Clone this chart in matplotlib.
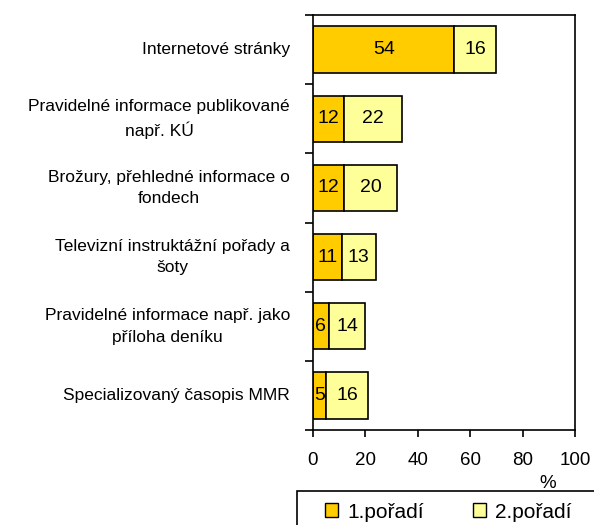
import matplotlib.pyplot as plt
from matplotlib.patches import Patch, Rectangle

plt.rcParams['font.family'] = ['Liberation Sans', 'DejaVu Sans']

# survey answers, share of respondents in %
categories = [
    'Internetové stránky',
    'Pravidelné informace publikované\nnapř. KÚ',
    'Brožury, přehledné informace o\nfondech',
    'Televizní instruktážní pořady a\nšoty',
    'Pravidelné informace např. jako\npříloha deníku',
    'Specializovaný časopis MMR',
]
first_rank = [54, 12, 12, 11, 6, 5]
second_rank = [16, 22, 20, 13, 14, 16]
series_names = ['1.pořadí', '2.pořadí']
colors = ['#FFCC00', '#FFFF99']

W, H = 594, 525
fig = plt.figure(figsize=(W / 100, H / 100), dpi=100)
ax = fig.add_axes([313 / W, 95 / H, 262 / W, 415 / H])

ypos = list(range(len(categories)))
bh = 0.67
ax.barh(ypos, first_rank, height=bh, color=colors[0], edgecolor='black', linewidth=1.2)
ax.barh(ypos, second_rank, left=first_rank, height=bh, color=colors[1],
        edgecolor='black', linewidth=1.2)

# values written in the middle of each segment
for y, a, b in zip(ypos, first_rank, second_rank):
    ax.text(a / 2, y, str(a), ha='center', va='center', fontsize=14, clip_on=True)
    ax.text(a + b / 2, y, str(b), ha='center', va='center', fontsize=14, clip_on=True)

ax.set_xlim(0, 100)
ax.set_ylim(len(categories) - 0.5, -0.5)
ax.set_xticks([0, 20, 40, 60, 80, 100])
ax.tick_params(axis='x', labelsize=13.5, length=5, width=1.2, pad=11)

# tick marks between categories, labels at category centres
ax.set_yticks([i - 0.5 for i in range(len(categories) + 1)])
ax.set_yticklabels([])
ax.tick_params(axis='y', which='major', length=6, width=1.2)
ax.set_yticks(ypos, minor=True)
ax.set_yticklabels(categories, minor=True, fontsize=12.5, ha='right', va='center',
                   multialignment='center', linespacing=1.55)
ax.tick_params(axis='y', which='minor', length=0, pad=16.5)

for s in ax.spines.values():
    s.set_linewidth(1.2)

ax.text(0.897, -0.128, '%', transform=ax.transAxes, ha='center', va='center', fontsize=13.5)

# legend box, runs off the lower edge of the figure
fig.patches.append(Rectangle((297 / W, -10 / H), 300 / W, 44 / H, transform=fig.transFigure,
                             facecolor='white', edgecolor='black', linewidth=1.2))
handles = [Patch(facecolor=c, edgecolor='black', linewidth=1) for c in colors]
fig.legend(handles, series_names, loc='center left',
           bbox_to_anchor=(325 / W, 1 - 512 / H), ncol=2, fontsize=15,
           frameon=False, handlelength=0.63, handleheight=0.63, handletextpad=0.43,
           columnspacing=2.35, borderpad=0, borderaxespad=0)

fig.savefig('out.png', dpi=100)
